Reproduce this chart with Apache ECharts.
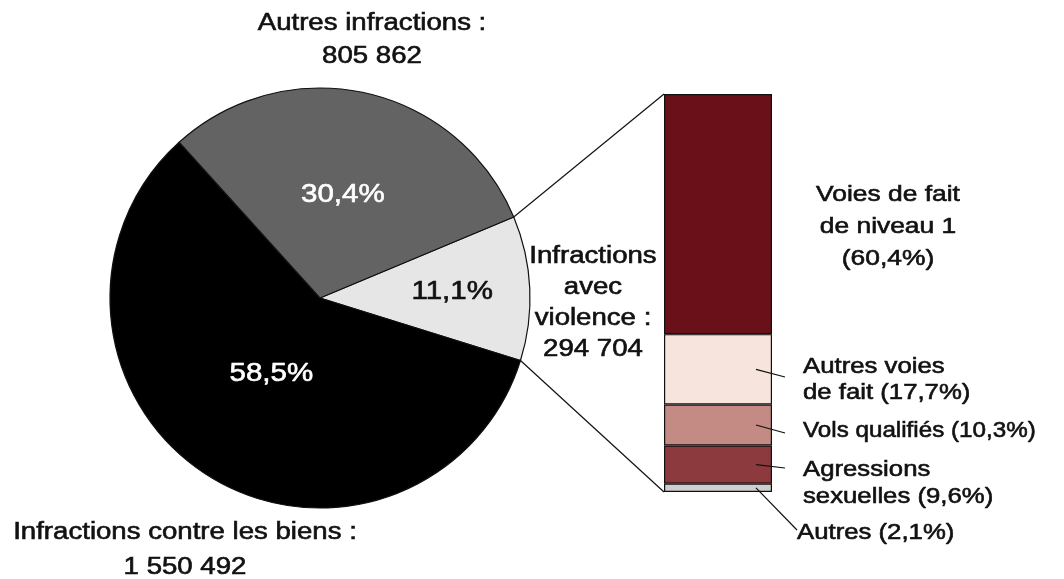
<!DOCTYPE html>
<html><head><meta charset="utf-8">
<script src="https://cdn.jsdelivr.net/npm/echarts@6/dist/echarts.min.js"></script>
<style>html,body{margin:0;padding:0;background:#fff}#c{width:1064px;height:579px}</style>
</head><body><div id="c"></div>
<script>
// Pie data (order drawn clockwise from the right)
const pieNames = ['Infractions avec violence', 'Infractions contre les biens', 'Autres infractions'];
const pieValues = [294704, 1550492, 805862];
const piePct = ['11,1%', '58,5%', '30,4%'];
const pieColors = ['#e6e6e6', '#000000', '#636363'];
const pieLabelColors = ['#111', '#fff', '#fff'];
// Breakdown of violent offences (top to bottom)
const barNames = ['Voies de fait de niveau 1', 'Autres voies de fait', 'Vols qualifiés', 'Agressions sexuelles', 'Autres'];
const barValues = [60.4, 17.7, 10.3, 9.6, 2.1];
const barColors = ['#6a1018', '#f6e4dd', '#c48a84', '#8c3a3e', '#cfcfcf'];

const FONT = 'Liberation Sans, Arial, sans-serif';
const chart = echarts.init(document.getElementById('c'), null, {renderer: 'canvas'});
const CX = 320, CY = 298, R = 210, START = 22.7;
const GL = 664, GW = 108, GT = 94, GH = 398;
const total = pieValues.reduce((a, b) => a + b, 0);
const barTotal = barValues.reduce((a, b) => a + b, 0);

const option = {
  animation: false,
  grid: {left: GL, top: GT, width: GW, height: GH},
  xAxis: {type: 'category', data: ['v'], show: false},
  yAxis: {type: 'value', min: 0, max: barTotal, inverse: true, show: false},
  series: [
    {
      type: 'pie', center: [CX, CY], radius: R, startAngle: START, clockwise: true,
      data: pieValues.map((v, i) => ({
        value: v, name: pieNames[i],
        itemStyle: {color: pieColors[i]}
      })),
      itemStyle: {borderColor: '#111', borderWidth: 1.2},
      label: {show: false},
      labelLine: {show: false}
    },
    ...barValues.map((v, i) => ({
      type: 'bar', stack: 's', barWidth: '100%', name: barNames[i],
      data: [v],
      itemStyle: {color: barColors[i], borderColor: '#111', borderWidth: 1.2},
      label: {show: false}
    }))
  ],
  graphic: []
};
chart.setOption(option);

function piePoint(angleDeg, r) {
  const a = angleDeg * Math.PI / 180;
  return [CX + r * Math.cos(a), CY - r * Math.sin(a)];
}
const g = [];
function txt(x, y, text, opt) {
  opt = opt || {};
  const col = opt.color || '#111';
  g.push({type: 'text', x: x, y: y, z: 20, scaleX: opt.sx || 1.2, style: {
    text: text, fill: col, stroke: col, lineWidth: 0.6,
    font: (opt.size || 23) + 'px ' + FONT,
    align: opt.align || 'center', verticalAlign: 'middle', lineHeight: opt.lh || 32
  }});
}

// percentage labels placed at each slice's mid-angle
const radFrac = [0.63, 0.43, 0.5];
let acc = 0;
pieValues.forEach((v, i) => {
  const mid = START - 360 * (acc + v / 2) / total;
  acc += v;
  const p = piePoint(mid, R * radFrac[i]);
  txt(p[0], p[1], piePct[i], {color: pieLabelColors[i], size: 25, sx: 1.18});
});

// connectors from the violent slice to the bar
const a1 = START, a2 = START - 360 * pieValues[0] / total;
const p1 = piePoint(a1, R), p2 = piePoint(a2, R);
const topY = chart.convertToPixel({yAxisIndex: 0}, 0);
const botY = chart.convertToPixel({yAxisIndex: 0}, barTotal);
const lineStyle = {stroke: '#111', lineWidth: 1.2};
g.push({type: 'line', shape: {x1: p1[0], y1: p1[1], x2: GL, y2: topY}, style: lineStyle, z: 10});
g.push({type: 'line', shape: {x1: p2[0], y1: p2[1], x2: GL, y2: botY}, style: lineStyle, z: 10});

// leader lines for bar segments
let cum = 0;
const mids = barValues.map(v => { const m = cum + v / 2; cum += v; return chart.convertToPixel({yAxisIndex: 0}, m); });
const leaderEnds = [null, [785, 377], [785, 433], [785, 468], [797, 530]];
for (let i = 1; i < barValues.length; i++) {
  const e = leaderEnds[i];
  g.push({type: 'line', shape: {x1: 756, y1: mids[i], x2: e[0], y2: e[1]}, style: lineStyle, z: 10});
}

txt(372, 40, 'Autres infractions :\n805 862', {lh: 33});
txt(593, 303, 'Infractions\navec\nviolence :\n294 704', {lh: 31});
txt(185, 550, 'Infractions contre les biens :\n1 550 492', {lh: 35});
txt(888, 227, 'Voies de fait\nde niveau 1\n(60,4%)', {size: 22, sx: 1.2, lh: 32});
txt(803, 380, 'Autres voies\nde fait (17,7%)', {align: 'left', size: 22, sx: 1.17, lh: 26});
txt(803, 431, 'Vols qualifiés (10,3%)', {align: 'left', size: 22, sx: 1.1});
txt(803, 483, 'Agressions\nsexuelles (9,6%)', {align: 'left', size: 22, sx: 1.17, lh: 27});
txt(797, 533, 'Autres (2,1%)', {align: 'left', size: 22, sx: 1.17});

chart.setOption({graphic: g});
</script>
</body></html>
